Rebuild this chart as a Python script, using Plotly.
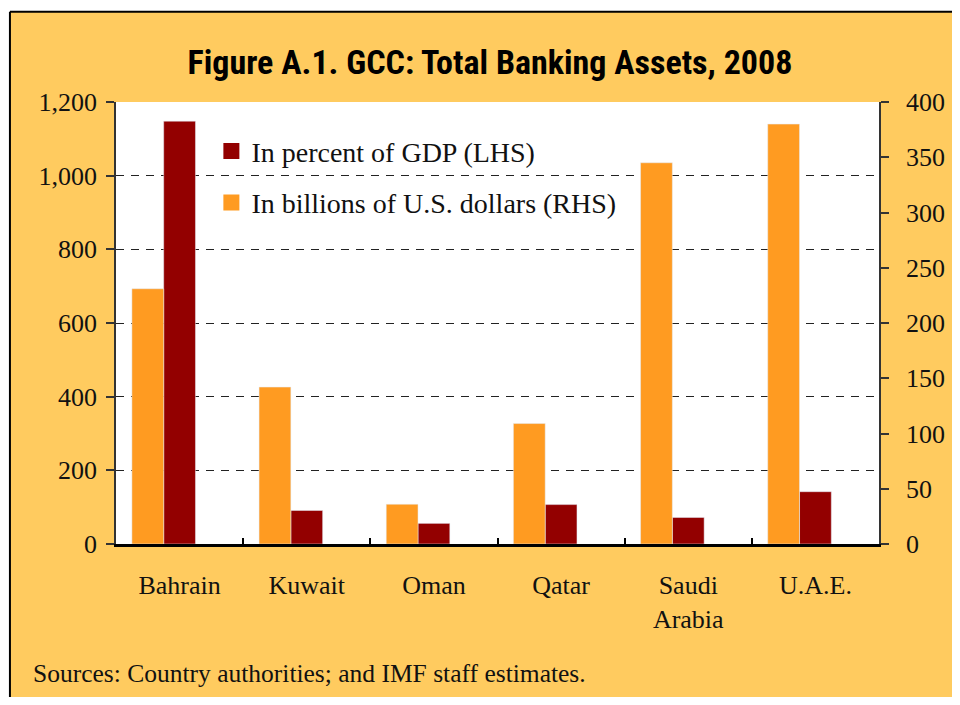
import plotly.graph_objects as go

countries = ["Bahrain", "Kuwait", "Oman", "Qatar", "Saudi<br>Arabia", "U.A.E."]
pct_gdp = [1148, 91, 56, 107, 72, 142]        # LHS
bn_usd = [231, 142, 36, 109, 345, 380]         # RHS
left_ticks = [0, 200, 400, 600, 800, 1000, 1200]
right_ticks = [0, 50, 100, 150, 200, 250, 300, 350, 400]

BG = "#FFCB5F"
ORANGE = "#FF9B21"
RED = "#930000"
SERIF = "Liberation Serif, Times New Roman, serif"

fig = go.Figure()

# bars, positioned like the original (group sits left of category centre)
fig.add_trace(go.Bar(x=countries, y=pct_gdp, marker_color=RED, width=0.25,
                     offset=-0.125, yaxis="y", showlegend=False))
fig.add_trace(go.Bar(x=countries, y=bn_usd, marker_color=ORANGE, width=0.25,
                     offset=-0.375, yaxis="y2", showlegend=False))

# legend proxies (bigger squares than the bar legend icon)
fig.add_trace(go.Scatter(x=[None], y=[None], mode="markers", name="In percent of GDP (LHS)",
                         marker=dict(symbol="square", size=16, color=RED), legendgroup="a"))
fig.add_trace(go.Scatter(x=[None], y=[None], mode="markers", name="In billions of U.S. dollars (RHS)",
                         marker=dict(symbol="square", size=16, color=ORANGE), legendgroup="b"))

# page body adds an 8px margin; keep the figure inside the window so no scrollbars
W, H = 944, 689
fig.update_layout(
    width=W, height=H,
    margin=dict(l=108, r=73, t=94, b=153),
    paper_bgcolor=BG,
    plot_bgcolor="white",
    barmode="overlay",
    font=dict(family=SERIF, size=26, color="#111"),
    title=dict(text="<b>Figure A.1. GCC: Total Banking Assets, 2008</b>",
               x=(490 - 8) / W, xref="container", xanchor="center",
               y=1 - (62 - 8) / H, yref="container", yanchor="middle",
               font=dict(family="Liberation Sans Narrow, Arial Narrow, Roboto Condensed, Liberation Sans",
                         size=34, color="black")),
    xaxis=dict(
        showline=True, linecolor="black", linewidth=2.5,
        ticks="inside", tickson="boundaries", ticklen=6, tickwidth=1.5, tickcolor="black",
        showgrid=False, ticklabelstandoff=16, tickfont=dict(size=26), automargin=False,
    ),
    yaxis=dict(
        range=[0, 1200], tickvals=left_ticks, tickformat=",d",
        showline=True, linecolor="#333", linewidth=1.5,
        ticks="outside", ticklen=8, tickcolor="#333", tickwidth=1.5,
        showgrid=True, gridcolor="#222", gridwidth=1, griddash="8px,7px",
        zeroline=False, ticklabelstandoff=4, automargin=False,
    ),
    yaxis2=dict(
        range=[0, 400], tickvals=right_ticks, overlaying="y", side="right",
        showline=True, linecolor="#333", linewidth=1.5,
        ticks="outside", ticklen=8, tickcolor="#333", tickwidth=1.5,
        showgrid=False, zeroline=False, ticklabelstandoff=12, automargin=False,
    ),
    legend=dict(x=0.125, y=0.945, xanchor="left", yanchor="top",
                bgcolor="rgba(0,0,0,0)", font=dict(size=28),
                traceorder="grouped", tracegroupgap=12),
    shapes=[
        # white strip outside the frame (top and left), then the frame lines
        dict(type="rect", xref="paper", yref="paper", x0=-0.2, x1=1.3, y0=1.204, y1=1.4,
             fillcolor="white", line=dict(width=0), layer="below"),
        dict(type="rect", xref="paper", yref="paper", x0=-0.2, x1=-0.139, y0=-0.6, y1=1.4,
             fillcolor="white", line=dict(width=0), layer="below"),
        dict(type="line", xref="paper", yref="paper", x0=-0.139, x1=1.3, y0=1.204, y1=1.204,
             line=dict(color="black", width=2), layer="below"),
        dict(type="line", xref="paper", yref="paper", x0=-0.139, x1=-0.139, y0=-0.6, y1=1.204,
             line=dict(color="black", width=2), layer="below"),
    ],
    annotations=[
        dict(text="Sources: Country authorities; and IMF staff estimates.",
             xref="paper", yref="paper", x=-0.111, y=-0.292, xanchor="left", yanchor="middle",
             showarrow=False, font=dict(family=SERIF, size=25.5, color="#111")),
    ],
)

fig.write_html("out.html")
